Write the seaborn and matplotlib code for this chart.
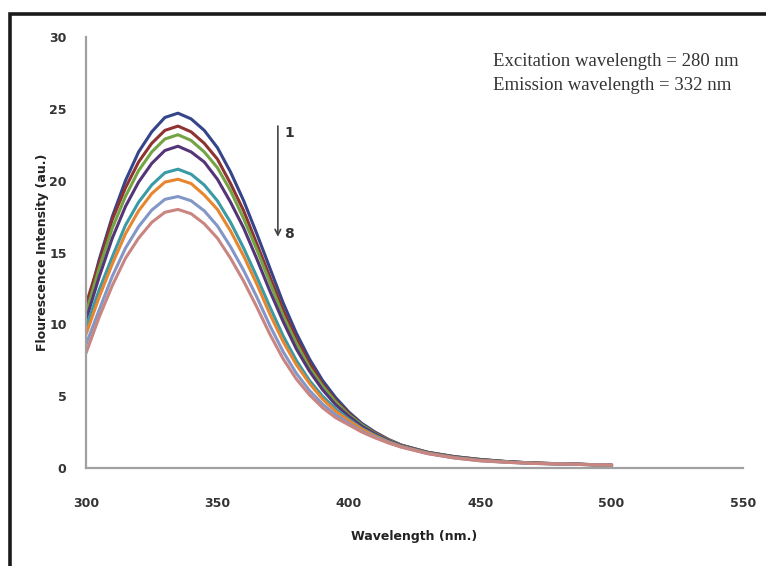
import pandas as pd
import seaborn as sns
import matplotlib.pyplot as plt
from matplotlib.patches import Rectangle

# wavelengths (nm)
wavelength = [300, 305, 310, 315, 320, 325, 330, 335, 340, 345, 350, 355, 360,
              365, 370, 375, 380, 385, 390, 395, 400, 405, 410, 415, 420,
              430, 440, 450, 460, 470, 480, 490, 500]

# fluorescence spectra, 1 (top) to 8 (bottom)
curve1 = [11.0, 14.5, 17.5, 20.0, 22.0, 23.4, 24.4, 24.7, 24.3, 23.5, 22.3, 20.6, 18.6,
          16.3, 13.9, 11.5, 9.4, 7.6, 6.1, 4.9, 3.9, 3.1, 2.5, 2.0, 1.6,
          1.1, 0.8, 0.6, 0.45, 0.35, 0.3, 0.25, 0.2]
curve2 = [11.4, 14.3, 17.3, 19.5, 21.3, 22.6, 23.5, 23.8, 23.4, 22.6, 21.5, 19.8, 17.9,
          15.6, 13.3, 11.0, 9.0, 7.3, 5.85, 4.7, 3.8, 3.0, 2.45, 1.97, 1.58,
          1.09, 0.79, 0.59, 0.45, 0.35, 0.3, 0.25, 0.2]
curve3 = [10.8, 13.9, 16.7, 18.9, 20.7, 22.0, 22.9, 23.2, 22.8, 22.0, 20.9, 19.3, 17.35,
          15.2, 12.9, 10.6, 8.7, 7.0, 5.7, 4.6, 3.7, 3.0, 2.4, 1.95, 1.57,
          1.08, 0.78, 0.58, 0.44, 0.34, 0.3, 0.25, 0.2]
curve4 = [10.3, 13.3, 16.0, 18.2, 19.9, 21.2, 22.1, 22.4, 22.0, 21.3, 20.1, 18.5, 16.7,
          14.55, 12.3, 10.2, 8.3, 6.75, 5.45, 4.4, 3.6, 2.9, 2.36, 1.91, 1.55,
          1.07, 0.77, 0.57, 0.43, 0.34, 0.29, 0.25, 0.2]
curve5 = [9.8, 12.4, 14.7, 16.9, 18.5, 19.7, 20.55, 20.8, 20.45, 19.7, 18.6, 17.1, 15.3,
          13.3, 11.2, 9.2, 7.5, 6.1, 5.0, 4.1, 3.4, 2.75, 2.27, 1.85, 1.51,
          1.04, 0.74, 0.54, 0.42, 0.33, 0.29, 0.24, 0.2]
curve6 = [9.3, 11.9, 14.2, 16.3, 17.9, 19.1, 19.9, 20.1, 19.8, 19.0, 18.0, 16.5, 14.75,
          12.8, 10.7, 8.8, 7.2, 5.9, 4.8, 3.95, 3.3, 2.7, 2.22, 1.82, 1.5,
          1.03, 0.73, 0.53, 0.41, 0.33, 0.29, 0.24, 0.2]
curve7 = [8.6, 11.0, 13.35, 15.3, 16.8, 17.95, 18.7, 18.9, 18.6, 17.9, 16.85, 15.4, 13.75,
          11.9, 9.9, 8.1, 6.6, 5.4, 4.45, 3.7, 3.1, 2.55, 2.15, 1.78, 1.47,
          1.01, 0.71, 0.51, 0.4, 0.32, 0.28, 0.24, 0.2]
curve8 = [8.0, 10.5, 12.7, 14.6, 16.0, 17.1, 17.8, 18.0, 17.7, 17.0, 16.0, 14.6, 13.0,
          11.2, 9.3, 7.6, 6.2, 5.1, 4.2, 3.5, 3.0, 2.5, 2.1, 1.75, 1.45,
          1.0, 0.7, 0.5, 0.4, 0.32, 0.28, 0.24, 0.2]

curve_names = ["1", "2", "3", "4", "5", "6", "7", "8"]
colors = ["#34458a", "#8e3331", "#74a343", "#553578", "#3a9aa6", "#e8852f", "#8396c8", "#c98580"]

frames = []
for name, vals in zip(curve_names, [curve1, curve2, curve3, curve4, curve5, curve6, curve7, curve8]):
    frames.append(pd.DataFrame({"Wavelength": wavelength, "Intensity": vals, "Curve": name}))
df = pd.concat(frames, ignore_index=True)

sns.set_style("white")
plt.rcParams["font.family"] = ["DejaVu Sans"]

fig = plt.figure(figsize=(7.66, 5.66), dpi=100)
ax = fig.add_axes([0.1123, 0.1731, 0.8577, 0.7615])

sns.lineplot(data=df, x="Wavelength", y="Intensity", hue="Curve",
             palette=colors, linewidth=2.2, legend=False, ax=ax)

ax.set_xlim(300, 550)
ax.set_ylim(0, 30)
ax.set_xticks([300, 350, 400, 450, 500, 550])
ax.set_yticks([0, 5, 10, 15, 20, 25, 30])

sns.despine(ax=ax)
for side in ["left", "bottom"]:
    ax.spines[side].set_color("#a0a0a0")
    ax.spines[side].set_linewidth(1.6)

ax.tick_params(axis="both", which="major", direction="out", length=4, width=1,
               color="#909090", labelsize=9, labelcolor="#333333")
ax.tick_params(axis="y", pad=10)
ax.tick_params(axis="x", pad=17)
for lab in ax.get_xticklabels() + ax.get_yticklabels():
    lab.set_fontweight("bold")

ax.set_xlabel("Wavelength (nm.)", fontsize=9, fontweight="bold", color="#222222", labelpad=14)
ax.set_ylabel("Flourescence Intensity (au.)", fontsize=9, fontweight="bold", color="#222222", labelpad=0)

# excitation / emission note
ax.text(0.62, 0.963, "Excitation wavelength = 280 nm\nEmission wavelength = 332 nm",
        transform=ax.transAxes, fontsize=13.5, family="Liberation Serif",
        color="#333333", va="top", ha="left", linespacing=1.55)

# arrow from spectrum 1 to 8
ax.annotate("", xy=(373, 15.9), xytext=(373, 24.0),
            arrowprops=dict(arrowstyle="->", color="#444444", lw=1.2))
ax.text(375.5, 23.3, "1", fontsize=10, color="#333333", va="center", fontweight="bold")
ax.text(375.5, 16.3, "8", fontsize=10, color="#333333", va="center", fontweight="bold")

# outer frame
fig.patches.append(Rectangle((0.013, -0.2), 1.3, 0.2 + 0.975, transform=fig.transFigure,
                             fill=False, edgecolor="#1a1a1a", linewidth=2.6))

plt.savefig("out.png", dpi=100)
